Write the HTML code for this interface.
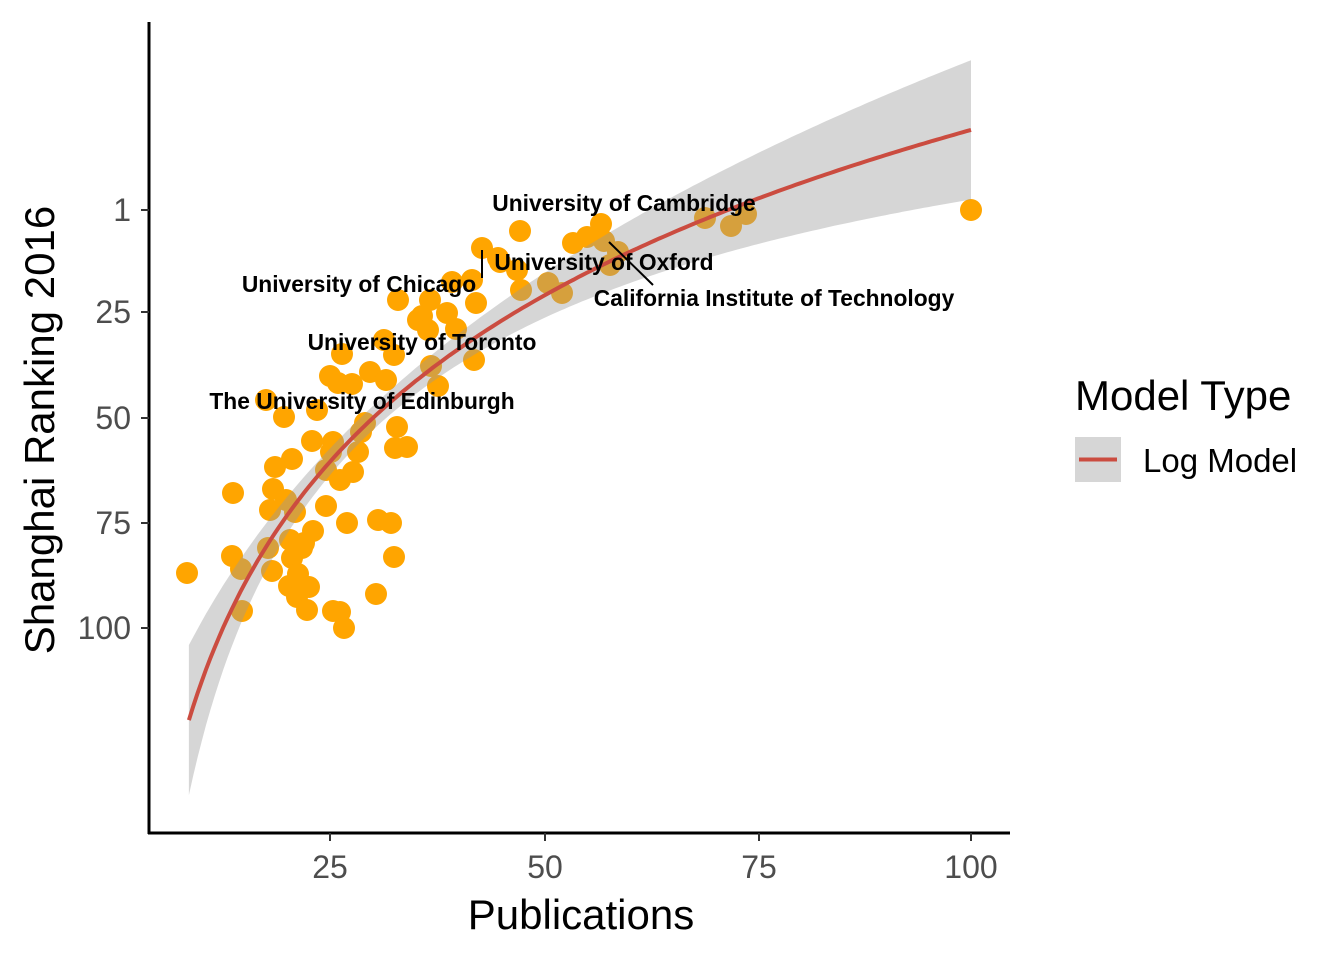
<!DOCTYPE html>
<html><head><meta charset="utf-8"><style>body{margin:0;background:#fff}svg{display:block}</style></head>
<body>
<svg width="1344" height="960" xmlns="http://www.w3.org/2000/svg" font-family="Liberation Sans, sans-serif">
<rect width="1344" height="960" fill="#fff"/>
<g fill="#FFA500">
<circle cx="187" cy="573" r="11"/><circle cx="233" cy="493" r="11"/><circle cx="232" cy="556" r="11"/><circle cx="241" cy="569" r="11"/><circle cx="242" cy="611" r="11"/><circle cx="266" cy="400" r="11"/><circle cx="284" cy="417" r="11"/><circle cx="275" cy="467" r="11"/><circle cx="292" cy="459" r="11"/><circle cx="273" cy="489" r="11"/><circle cx="270" cy="510" r="11"/><circle cx="286" cy="500" r="11"/><circle cx="295" cy="512" r="11"/><circle cx="268" cy="548" r="11"/><circle cx="272" cy="571" r="11"/><circle cx="290" cy="540" r="11"/><circle cx="292" cy="558" r="11"/><circle cx="298" cy="574" r="11"/><circle cx="289" cy="586" r="11"/><circle cx="297" cy="597" r="11"/><circle cx="309" cy="587" r="11"/><circle cx="307" cy="610" r="11"/><circle cx="302" cy="548" r="11"/><circle cx="313" cy="531" r="11"/><circle cx="304" cy="543" r="11"/><circle cx="326" cy="506" r="11"/><circle cx="333" cy="611" r="11"/><circle cx="340" cy="612" r="11"/><circle cx="344" cy="628" r="11"/><circle cx="347" cy="523" r="11"/><circle cx="326" cy="470" r="11"/><circle cx="331" cy="452" r="11"/><circle cx="333" cy="442" r="11"/><circle cx="312" cy="441" r="11"/><circle cx="317" cy="410" r="11"/><circle cx="330" cy="376" r="11"/><circle cx="342" cy="354" r="11"/><circle cx="352" cy="384" r="11"/><circle cx="338" cy="383" r="11"/><circle cx="353" cy="472" r="11"/><circle cx="340" cy="480" r="11"/><circle cx="358" cy="452" r="11"/><circle cx="361" cy="432" r="11"/><circle cx="370" cy="372" r="11"/><circle cx="365" cy="423" r="11"/><circle cx="378" cy="520" r="11"/><circle cx="391" cy="523" r="11"/><circle cx="394" cy="557" r="11"/><circle cx="376" cy="594" r="11"/><circle cx="384" cy="340" r="11"/><circle cx="386" cy="380" r="11"/><circle cx="398" cy="300" r="11"/><circle cx="394" cy="355" r="11"/><circle cx="397" cy="427" r="11"/><circle cx="407" cy="447" r="11"/><circle cx="395" cy="448" r="11"/><circle cx="418" cy="320" r="11"/><circle cx="422" cy="316" r="11"/><circle cx="428" cy="330" r="11"/><circle cx="431" cy="366" r="11"/><circle cx="438" cy="386" r="11"/><circle cx="447" cy="313" r="11"/><circle cx="456" cy="329" r="11"/><circle cx="452" cy="282" r="11"/><circle cx="474" cy="360" r="11"/><circle cx="476" cy="303" r="11"/><circle cx="472" cy="280" r="11"/><circle cx="482" cy="248" r="11"/><circle cx="498" cy="258" r="11"/><circle cx="520" cy="231" r="11"/><circle cx="517" cy="270" r="11"/><circle cx="521" cy="290" r="11"/><circle cx="548" cy="283" r="11"/><circle cx="562" cy="293" r="11"/><circle cx="573" cy="243" r="11"/><circle cx="587" cy="237" r="11"/><circle cx="601" cy="224" r="11"/><circle cx="604" cy="241" r="11"/><circle cx="610" cy="265" r="11"/><circle cx="618" cy="252" r="11"/><circle cx="705" cy="218" r="11"/><circle cx="731" cy="226" r="11"/><circle cx="746" cy="214" r="11"/><circle cx="971" cy="210" r="11"/><circle cx="500" cy="262" r="11"/><circle cx="430" cy="300" r="11"/>
</g>
<path id="band" fill="rgba(153,153,153,0.4)" d=""/>
<path id="line" fill="none" stroke="#CB4C40" stroke-width="4" d=""/>
<g font-weight="bold" font-size="22.8" text-anchor="middle" fill="#000">
<text x="624" y="211">University of Cambridge</text>
<text x="359" y="292">University of Chicago</text>
<text x="604" y="270">University of Oxford</text>
<text x="774" y="306">California Institute of Technology</text>
<text x="422" y="350">University of Toronto</text>
<text x="362" y="409">The University of Edinburgh</text>
</g>
<g stroke="#000" stroke-width="2"><line x1="482" y1="250" x2="482" y2="278"/><line x1="609" y1="242" x2="653" y2="285"/></g>
<g stroke="#000" stroke-width="3"><line x1="149" y1="22" x2="149" y2="834"/><line x1="148" y1="833" x2="1010" y2="833"/></g>
<g stroke="#333" stroke-width="2">
<line x1="141" y1="210" x2="149" y2="210"/><line x1="141" y1="312" x2="149" y2="312"/><line x1="141" y1="418" x2="149" y2="418"/><line x1="141" y1="523" x2="149" y2="523"/><line x1="141" y1="628" x2="149" y2="628"/>
<line x1="330" y1="833" x2="330" y2="841"/><line x1="545" y1="833" x2="545" y2="841"/><line x1="759" y1="833" x2="759" y2="841"/><line x1="971" y1="833" x2="971" y2="841"/>
</g>
<g font-size="32" fill="#4d4d4d" text-anchor="end">
<text x="131" y="221">1</text><text x="131" y="323">25</text><text x="131" y="429">50</text><text x="131" y="534">75</text><text x="131" y="639">100</text>
</g>
<g font-size="32" fill="#4d4d4d" text-anchor="middle">
<text x="330" y="878">25</text><text x="545" y="878">50</text><text x="759" y="878">75</text><text x="971" y="878">100</text>
</g>
<text x="581" y="929" font-size="42" text-anchor="middle">Publications</text>
<text transform="translate(54,430) rotate(-90)" font-size="42" text-anchor="middle">Shanghai Ranking 2016</text>
<text x="1075" y="410" font-size="42">Model Type</text>
<rect x="1075" y="437" width="46" height="45" fill="#d6d6d6"/>
<line x1="1079" y1="459.5" x2="1117" y2="459.5" stroke="#CB4C40" stroke-width="4"/>
<text x="1143" y="472" font-size="33">Log Model</text>
<script>
function X(v){return 116.3+8.547*v;}
function Y(v){return 1232.4-239.4*Math.log(v);}
function H(v){var d=Math.log(v)-3.4;return 12+39.7*d*d;}
var l='',up=[],dn=[];
for(var v=8.5;v<=100.001;v+=0.5){l+=(l?'L':'M')+X(v).toFixed(1)+','+Y(v).toFixed(1);up.push(X(v).toFixed(1)+','+(Y(v)-H(v)).toFixed(1));dn.unshift(X(v).toFixed(1)+','+(Y(v)+H(v)).toFixed(1));}
document.getElementById('line').setAttribute('d',l);
document.getElementById('band').setAttribute('d','M'+up.join('L')+'L'+dn.join('L')+'Z');
</script>
</svg>
</body></html>
